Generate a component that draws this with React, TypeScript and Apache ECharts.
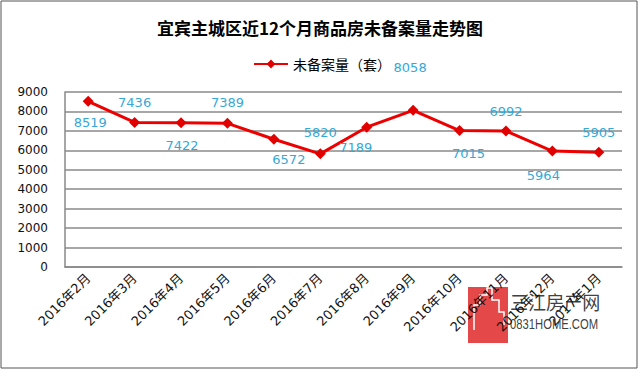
import React, { useEffect, useRef } from "react";
import * as echarts from "echarts";

const title = "宜宾主城区近12个月商品房未备案量走势图";
const seriesName = "未备案量（套）";
const categories = [
  "2016年2月", "2016年3月", "2016年4月", "2016年5月", "2016年6月", "2016年7月",
  "2016年8月", "2016年9月", "2016年10月", "2016年11月", "2016年12月", "2017年1月",
];
const values = [8519, 7436, 7422, 7389, 6572, 5820, 7189, 8058, 7015, 6992, 5964, 5905];
// label placement per point: [position, distance, x offset]
const labelPos: [string, number, number][] = [
  ["bottom", 9, 2], ["top", 8, 0], ["bottom", 11, 1], ["top", 9, 0],
  ["bottom", 8, 15], ["top", 9, 0], ["bottom", 8, -11], ["top", 31, -3],
  ["bottom", 11, 9], ["top", 8, 0], ["bottom", 12, -9], ["top", 8, 0],
];

export default function App() {
  const ref = useRef<HTMLDivElement>(null);
  useEffect(() => {
    if (!ref.current) return;
    const chart = echarts.init(ref.current, null, { renderer: "svg" });
    const data = values.map((v, i) => ({
      value: v,
      label: {
        position: labelPos[i][0] as any,
        distance: labelPos[i][1],
        offset: [labelPos[i][2], 0],
      },
    }));
    chart.setOption({
      animation: false,
      backgroundColor: "#ffffff",
      title: {
        text: title,
        left: "center",
        top: 14,
        textStyle: {
          fontFamily: "Noto Sans CJK SC",
          fontWeight: "bold",
          fontSize: 17,
          color: "#000",
        },
      },
      legend: {
        left: 248,
        top: 52,
        itemWidth: 34,
        itemHeight: 11,
        itemGap: 10,
        textStyle: { fontFamily: "Noto Sans CJK SC", fontSize: 14, color: "#000" },
        data: [seriesName],
      },
      grid: { left: 65, right: 18, top: 92, bottom: 104 },
      xAxis: {
        type: "category",
        data: categories,
        boundaryGap: true,
        axisLine: { show: true, lineStyle: { color: "#888", width: 1.5 } },
        axisTick: { show: false },
        axisLabel: {
          rotate: 45,
          interval: 0,
          margin: 9,
          fontSize: 13,
          color: "#111",
          fontFamily: "DejaVu Sans, Noto Sans CJK SC",
        },
      },
      yAxis: {
        type: "value",
        min: 0,
        max: 9000,
        interval: 1000,
        axisLine: { show: true, lineStyle: { color: "#888", width: 1.5 } },
        axisTick: { show: false },
        splitLine: { lineStyle: { color: "#8a8a8a", width: 1.5 } },
        axisLabel: {
          margin: 17,
          fontSize: 12,
          color: "#111",
          fontFamily: "DejaVu Sans",
          formatter: (v: number) => String(v),
        },
      },
      series: [
        {
          name: seriesName,
          type: "line",
          data,
          symbol: "diamond",
          symbolSize: 11,
          itemStyle: { color: "#e00000" },
          lineStyle: { color: "#ee0000", width: 3 },
          label: {
            show: true,
            color: "#35a8d8",
            fontSize: 13,
            fontFamily: "DejaVu Sans",
          },
        },
      ],
      graphic: [
        {
          type: "rect",
          shape: { x: 1, y: 1, width: 636, height: 367 },
          style: { fill: "none", stroke: "#555", lineWidth: 1 },
          silent: true,
        },
        {
          type: "group",
          silent: true,
          children: [
            {
              type: "rect",
              shape: { x: 468, y: 287, width: 40, height: 56 },
              style: { fill: "rgba(225,40,40,0.85)" },
            },
            {
              type: "polyline",
              shape: {
                points: [
                  [474, 330], [474, 305], [480, 305], [480, 295], [487, 295], [487, 288],
                  [492, 288], [492, 300], [499, 300], [499, 312], [504, 312], [504, 325],
                ],
              },
              style: { fill: "none", stroke: "#fff", lineWidth: 1.5 },
            },
            {
              type: "text",
              x: 510,
              y: 302,
              scaleX: 0.95,
              style: {
                text: "三江房产网",
                fill: "rgba(40,40,40,0.9)",
                font: "19px 'Noto Sans CJK SC'",
                textVerticalAlign: "middle",
              },
            },
            {
              type: "text",
              x: 510,
              y: 324,
              scaleX: 0.75,
              style: {
                text: "0831HOME.COM",
                fill: "rgba(40,40,40,0.9)",
                font: "15px 'Liberation Sans'",
                textVerticalAlign: "middle",
              },
            },
          ],
        },
      ],
    });
    return () => chart.dispose();
  }, []);
  return (
    <div
      ref={ref}
      style={{ position: "absolute", left: 0, top: 0, width: 640, height: 371 }}
    />
  );
}
